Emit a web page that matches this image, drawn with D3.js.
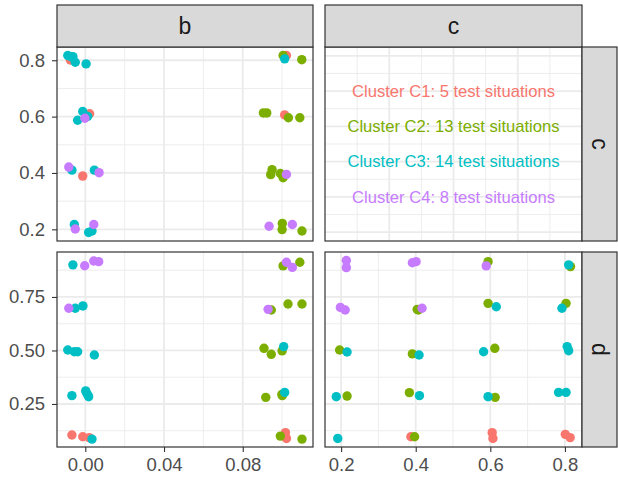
<!DOCTYPE html>
<html>
<head>
<meta charset="utf-8">
<script src="https://cdn.jsdelivr.net/npm/d3@7"></script>
<style>
 body{margin:0;background:#fff;}
 text{font-family:"Liberation Sans",Arial,sans-serif;}
</style>
</head>
<body>
<div id="chart"></div>
<script>
// cluster info
var clusters = ["C1", "C2", "C3", "C4"];
var clusterCounts = [5, 13, 14, 8];
var clusterColors = ["#F8766D", "#7CAE00", "#00BFC4", "#C77CFF"];

// facet labels
var colVars = ["b", "c"];
var rowVars = ["c", "d"];

// points per panel: [x, y, cluster index]
var bcPoints = [
 [-0.0076,0.801,0],[0.0022,0.610,0],[-0.0013,0.389,0],[0.1022,0.817,0],[0.1013,0.606,0],
 [0.1005,0.817,1],[0.1100,0.802,1],[0.0905,0.613,1],[0.0922,0.613,1],[0.1032,0.596,1],[0.1090,0.596,1],
 [0.0949,0.412,1],[0.0942,0.394,1],[0.0991,0.398,1],[0.1005,0.383,1],[0.1001,0.221,1],[0.1000,0.199,1],[0.1101,0.194,1],
 [-0.0089,0.817,2],[-0.0063,0.813,2],[-0.0051,0.793,2],[0.0004,0.787,2],[-0.0013,0.618,2],[0.0012,0.601,2],[-0.0039,0.587,2],
 [-0.0068,0.410,2],[0.0046,0.410,2],[-0.0056,0.217,2],[0.0017,0.189,2],[0.0034,0.194,2],[0.1013,0.805,2],[-0.0070,0.812,2],
 [-0.0002,0.594,3],[-0.0084,0.421,3],[0.0070,0.401,3],[-0.0051,0.201,3],[0.0043,0.217,3],[0.1022,0.395,3],[0.0934,0.211,3],[0.1052,0.217,3]
];

var bdPoints = [
 [-0.0068,0.105,0],[-0.0013,0.097,0],[0.0020,0.093,0],[0.1017,0.116,0],[0.1022,0.089,0],
 [0.1005,0.895,1],[0.1090,0.912,1],[0.0945,0.689,1],[0.1030,0.717,1],[0.1101,0.717,1],[0.0908,0.510,1],[0.0945,0.482,1],
 [0.1000,0.498,1],[0.0917,0.281,1],[0.1001,0.289,1],[0.0999,0.295,1],[0.0991,0.100,1],[0.1101,0.086,1],
 [-0.0063,0.900,2],[-0.0051,0.697,2],[-0.0012,0.708,2],[-0.0089,0.502,2],[-0.0056,0.494,2],[-0.0039,0.494,2],[0.0046,0.479,2],
 [-0.0068,0.289,2],[0.0002,0.311,2],[0.0017,0.284,2],[0.0010,0.296,2],[0.0034,0.086,2],[0.1008,0.518,2],[0.1013,0.304,2],
 [-0.0003,0.896,3],[0.0043,0.918,3],[0.0068,0.915,3],[-0.0084,0.697,3],[0.1022,0.912,3],[0.1052,0.888,3],[0.0929,0.692,3]
];

var cdPoints = [
 [0.387,0.097,0],[0.605,0.116,0],[0.607,0.089,0],[0.801,0.108,0],[0.814,0.093,0],
 [0.196,0.502,1],[0.216,0.287,1],[0.407,0.689,1],[0.391,0.484,1],[0.383,0.303,1],[0.397,0.097,1],[0.594,0.915,1],
 [0.594,0.720,1],[0.612,0.510,1],[0.613,0.281,1],[0.815,0.892,1],[0.803,0.720,1],[0.404,0.692,1],
 [0.216,0.493,2],[0.187,0.284,2],[0.191,0.089,2],[0.409,0.479,2],[0.410,0.289,2],[0.616,0.704,2],[0.582,0.494,2],
 [0.594,0.284,2],[0.810,0.900,2],[0.792,0.697,2],[0.806,0.518,2],[0.810,0.499,2],[0.783,0.304,2],[0.803,0.304,2],
 [0.214,0.920,3],[0.214,0.887,3],[0.198,0.701,3],[0.211,0.689,3],[0.391,0.910,3],[0.401,0.915,3],[0.417,0.697,3],[0.589,0.895,3]
];

// axis breaks
var bTicks = [0, 0.04, 0.08];
var bMinor = [0.02, 0.06, 0.10];
var cTicks = [0.2, 0.4, 0.6, 0.8];
var cMinor = [0.3, 0.5, 0.7];
var dTicks = [0.25, 0.50, 0.75];
var dMinor = [0.125, 0.375, 0.625, 0.875];

var width = 618, height = 479;

var svg = d3.select("#chart").append("svg")
  .attr("width", width)
  .attr("height", height);

// panel positions
var colX = [[57, 313], [325, 582]];
var rowY = [[47, 241], [252, 447]];

var xB = d3.scaleLinear().domain([-0.01438, 0.1157]).range(colX[0]);
var xC = d3.scaleLinear().domain([0.1568, 0.8458]).range(colX[1]);
var yC = d3.scaleLinear().domain([0.1586, 0.8470]).range([rowY[0][1], rowY[0][0]]);
var yD = d3.scaleLinear().domain([0.049, 0.960]).range([rowY[1][1], rowY[1][0]]);
// scales for the text-only panel
var xT = d3.scaleLinear().domain([0, 4]).range(colX[1]);
var yT = d3.scaleLinear().domain([-0.25, 5.25]).range([rowY[0][1], rowY[0][0]]);

function drawGrid(g, x, y, xMaj, xMin, yMaj, yMin){
  var x0 = x.range()[0], x1 = x.range()[1];
  var y0 = y.range()[1], y1 = y.range()[0];
  g.append("rect").attr("x", x0).attr("y", y0).attr("width", x1 - x0).attr("height", y1 - y0).attr("fill", "#fff");
  g.selectAll(".vmin").data(xMin).enter().append("line")
    .attr("x1", d => x(d)).attr("x2", d => x(d)).attr("y1", y0).attr("y2", y1)
    .attr("stroke", "#ebebeb").attr("stroke-width", 0.9);
  g.selectAll(".hmin").data(yMin).enter().append("line")
    .attr("y1", d => y(d)).attr("y2", d => y(d)).attr("x1", x0).attr("x2", x1)
    .attr("stroke", "#ebebeb").attr("stroke-width", 0.9);
  g.selectAll(".vmaj").data(xMaj).enter().append("line")
    .attr("x1", d => x(d)).attr("x2", d => x(d)).attr("y1", y0).attr("y2", y1)
    .attr("stroke", "#ebebeb").attr("stroke-width", 1.8);
  g.selectAll(".hmaj").data(yMaj).enter().append("line")
    .attr("y1", d => y(d)).attr("y2", d => y(d)).attr("x1", x0).attr("x2", x1)
    .attr("stroke", "#ebebeb").attr("stroke-width", 1.8);
}

function drawPoints(g, x, y, pts){
  g.selectAll("circle").data(pts).enter().append("circle")
    .attr("cx", d => x(d[0]))
    .attr("cy", d => y(d[1]))
    .attr("r", 4.7)
    .attr("fill", d => clusterColors[d[2]]);
}

function drawBorder(g, x, y){
  var x0 = x.range()[0], x1 = x.range()[1];
  var y0 = y.range()[1], y1 = y.range()[0];
  g.append("rect").attr("x", x0).attr("y", y0).attr("width", x1 - x0).attr("height", y1 - y0)
    .attr("fill", "none").attr("stroke", "#333333").attr("stroke-width", 1.2);
}

// panel b / c
var p1 = svg.append("g");
drawGrid(p1, xB, yC, bTicks, bMinor, cTicks, cMinor);
drawPoints(p1, xB, yC, bcPoints);
drawBorder(p1, xB, yC);

// panel c / c : text
var p2 = svg.append("g");
drawGrid(p2, xT, yT, [1, 2, 3], [0.5, 1.5, 2.5, 3.5], [0, 1, 2, 3, 4, 5], [0.5, 1.5, 2.5, 3.5, 4.5]);
p2.selectAll("text.lab").data(clusters).enter().append("text")
  .attr("x", xT(2))
  .attr("y", (d, i) => yT(4 - i))
  .attr("dy", "0.35em")
  .attr("text-anchor", "middle")
  .attr("font-size", 16.6)
  .attr("fill", (d, i) => clusterColors[i])
  .text((d, i) => "Cluster " + d + ": " + clusterCounts[i] + " test situations");
drawBorder(p2, xT, yT);

// panel b / d
var p3 = svg.append("g");
drawGrid(p3, xB, yD, bTicks, bMinor, dTicks, dMinor);
drawPoints(p3, xB, yD, bdPoints);
drawBorder(p3, xB, yD);

// panel c / d
var p4 = svg.append("g");
drawGrid(p4, xC, yD, cTicks, cMinor, dTicks, dMinor);
drawPoints(p4, xC, yD, cdPoints);
drawBorder(p4, xC, yD);

// axes
function styleAxis(ax){
  ax.select(".domain").remove();
  ax.selectAll(".tick line").attr("stroke", "#333333").attr("stroke-width", 1.1);
  ax.selectAll(".tick text").attr("fill", "#4d4d4d").attr("font-size", 18.5)
    .style("font-family", "'Liberation Sans', Arial, sans-serif");
}

styleAxis(svg.append("g").attr("transform", "translate(57,0)")
  .call(d3.axisLeft(yC).tickValues(cTicks).tickFormat(d3.format(".1f")).tickSize(5).tickPadding(7)));
styleAxis(svg.append("g").attr("transform", "translate(57,0)")
  .call(d3.axisLeft(yD).tickValues(dTicks).tickFormat(d3.format(".2f")).tickSize(5).tickPadding(7)));
styleAxis(svg.append("g").attr("transform", "translate(0,447)")
  .call(d3.axisBottom(xB).tickValues(bTicks).tickFormat(d3.format(".2f")).tickSize(5).tickPadding(6)));
styleAxis(svg.append("g").attr("transform", "translate(0,447)")
  .call(d3.axisBottom(xC).tickValues(cTicks).tickFormat(d3.format(".1f")).tickSize(5).tickPadding(6)));

// strips
colVars.forEach(function(v, i){
  svg.append("rect").attr("x", colX[i][0]).attr("y", 5)
    .attr("width", colX[i][1] - colX[i][0]).attr("height", 42)
    .attr("fill", "#d9d9d9").attr("stroke", "#333333").attr("stroke-width", 1.2);
  svg.append("text").attr("x", (colX[i][0] + colX[i][1]) / 2).attr("y", 26)
    .attr("dy", "0.35em").attr("text-anchor", "middle")
    .attr("font-size", 23).attr("fill", "#1a1a1a").text(v);
});
rowVars.forEach(function(v, i){
  svg.append("rect").attr("x", 582).attr("y", rowY[i][0])
    .attr("width", 35).attr("height", rowY[i][1] - rowY[i][0])
    .attr("fill", "#d9d9d9").attr("stroke", "#333333").attr("stroke-width", 1.2);
  var cy = (rowY[i][0] + rowY[i][1]) / 2;
  svg.append("text").attr("transform", "translate(600," + cy + ") rotate(90)")
    .attr("dy", "0.35em").attr("text-anchor", "middle")
    .attr("font-size", 23).attr("fill", "#1a1a1a").text(v);
});
</script>
</body>
</html>
